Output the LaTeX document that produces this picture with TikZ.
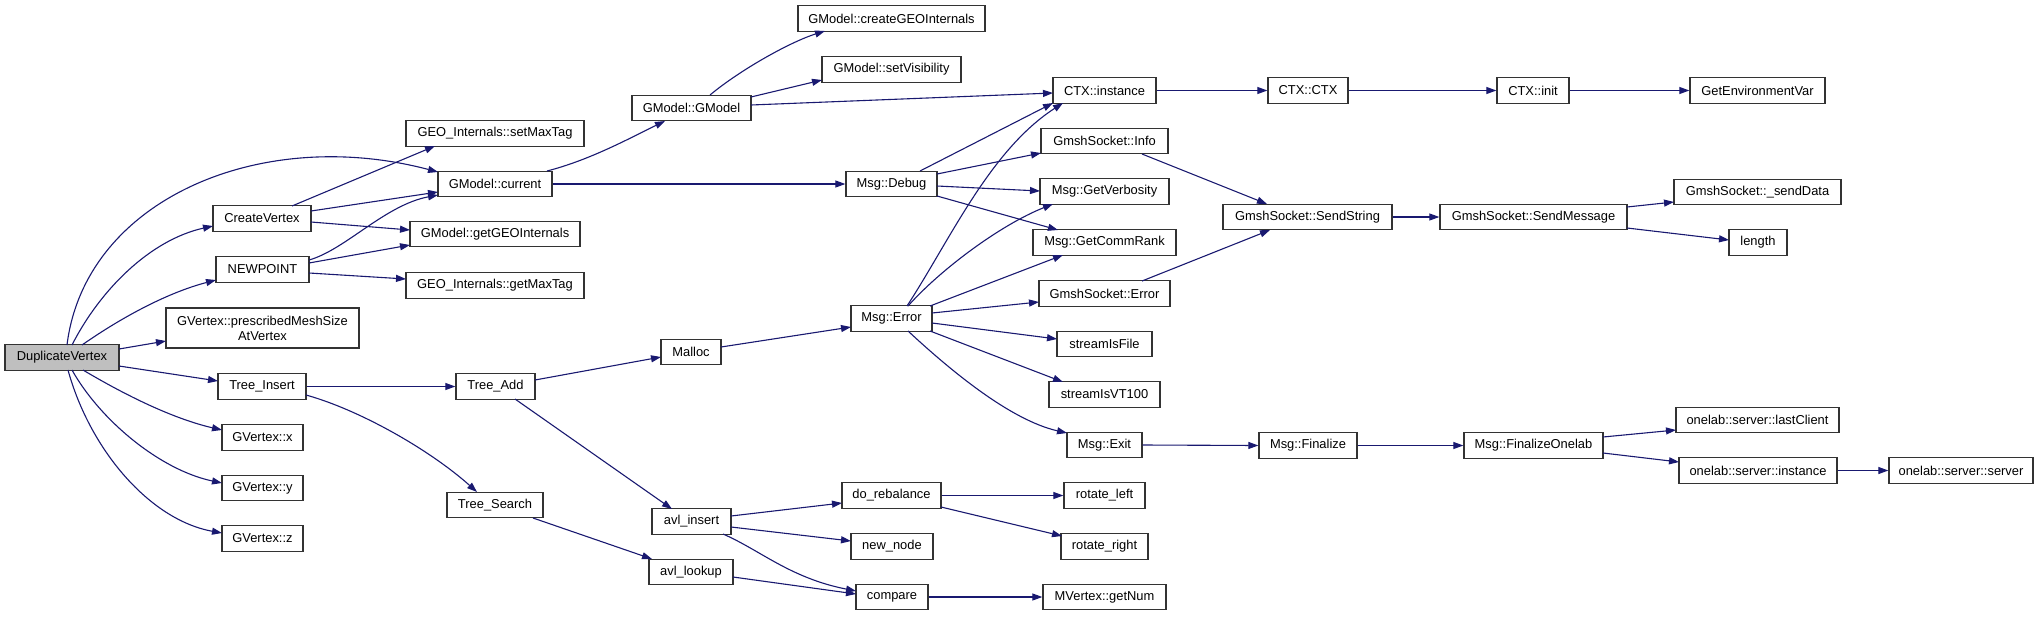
\documentclass[tikz,border=0pt]{standalone}
\usepackage{fontspec}
\setmainfont{Liberation Sans}
\usetikzlibrary{arrows.meta,calc}
\definecolor{edgec}{HTML}{191970}
\definecolor{boxc}{HTML}{333333}
\definecolor{rootc}{HTML}{BFBFBF}
\begin{document}
\begin{tikzpicture}[x=1pt,y=-1pt,
  box/.style={draw=boxc,line width=1.3pt,inner sep=0pt,minimum height=25.5pt,font=\fontsize{12.9}{15}\selectfont,align=center,fill=white},
  e/.style={draw=edgec,line width=1.1pt,-{Triangle[length=10pt,width=7pt]},shorten >=0pt}]
\useasboundingbox (0,0) rectangle (2039,616);
% column 0
\node[box,fill=rootc,minimum width=114] (dv) at (62,357.5) {DuplicateVertex};
% column 1
\node[box,minimum width=98] (cv) at (262,218.5) {CreateVertex};
\node[box,minimum width=93] (np) at (262.5,269.5) {NEWPOINT};
\node[box,minimum width=193,minimum height=40] (pm) at (262.5,328) {GVertex::prescribedMeshSize\\AtVertex};
\node[box,minimum width=88] (ti) at (262,386.5) {Tree\_Insert};
\node[box,minimum width=81] (gx) at (262.5,437.5) {GVertex::x};
\node[box,minimum width=81] (gy) at (262.5,488) {GVertex::y};
\node[box,minimum width=81] (gz) at (262.5,538.5) {GVertex::z};
% column 2
\node[box,minimum width=178] (smt) at (495,133.5) {GEO\_Internals::setMaxTag};
\node[box,minimum width=114] (gc) at (495,184) {GModel::current};
\node[box,minimum width=170] (ggi) at (495,234) {GModel::getGEOInternals};
\node[box,minimum width=178] (gmt) at (495,285.5) {GEO\_Internals::getMaxTag};
\node[box,minimum width=79] (ta) at (495.5,386.5) {Tree\_Add};
\node[box,minimum width=96] (ts) at (495,505) {Tree\_Search};
% column 3
\node[box,minimum width=119] (gm) at (691.5,108) {GModel::GModel};
\node[box,minimum width=60] (mal) at (691,352) {Malloc};
\node[box,minimum width=79] (ai) at (691.5,521.5) {avl\_insert};
\node[box,minimum width=84] (al) at (691,572) {avl\_lookup};
% column 4
\node[box,minimum width=187] (cgi) at (891.5,18.5) {GModel::createGEOInternals};
\node[box,minimum width=139] (sv) at (891.5,69.5) {GModel::setVisibility};
\node[box,minimum width=91] (md) at (891.5,184) {Msg::Debug};
\node[box,minimum width=81] (me) at (891.5,318.5) {Msg::Error};
\node[box,minimum width=99] (dr) at (891.5,495.5) {do\_rebalance};
\node[box,minimum width=82] (nn) at (892,546.5) {new\_node};
\node[box,minimum width=72] (cmp) at (892,597) {compare};
% column 5
\node[box,minimum width=103] (ci) at (1104.5,90.5) {CTX::instance};
\node[box,minimum width=127] (gsi) at (1104.5,141) {GmshSocket::Info};
\node[box,minimum width=129] (gv) at (1104.5,191.5) {Msg::GetVerbosity};
\node[box,minimum width=143] (gcr) at (1104.5,242.5) {Msg::GetCommRank};
\node[box,minimum width=131] (gse) at (1104.5,293.5) {GmshSocket::Error};
\node[box,minimum width=95] (sif) at (1104.5,344) {streamIsFile};
\node[box,minimum width=111] (svt) at (1104.5,394.5) {streamIsVT100};
\node[box,minimum width=75] (mex) at (1104.5,445) {Msg::Exit};
\node[box,minimum width=81] (rl) at (1104.5,495.5) {rotate\_left};
\node[box,minimum width=87] (rr) at (1104.5,546.5) {rotate\_right};
\node[box,minimum width=123] (gn) at (1104.5,597) {MVertex::getNum};
% column 6
\node[box,minimum width=80] (cc) at (1308,90.5) {CTX::CTX};
\node[box,minimum width=169] (ss) at (1307.5,217) {GmshSocket::SendString};
\node[box,minimum width=98] (fin) at (1308,445.5) {Msg::Finalize};
% column 7
\node[box,minimum width=72] (cin) at (1533,90.5) {CTX::init};
\node[box,minimum width=187] (sm) at (1533.5,217) {GmshSocket::SendMessage};
\node[box,minimum width=139] (fo) at (1533.5,445.5) {Msg::FinalizeOnelab};
% column 8
\node[box,minimum width=135] (gev) at (1757.5,90.5) {GetEnvironmentVar};
\node[box,minimum width=167] (sd) at (1757.5,192) {GmshSocket::\_sendData};
\node[box,minimum width=58] (len) at (1758,242.5) {length};
\node[box,minimum width=163] (lc) at (1757.5,420) {onelab::server::lastClient};
\node[box,minimum width=158] (osi) at (1758,470.5) {onelab::server::instance};
% column 9
\node[box,minimum width=144] (oss) at (1961,470.5) {onelab::server::server};

% edges from DuplicateVertex
\draw[e] ($(dv)+(5,-12.5)$) .. controls (85,200) and (260,125) .. ($(gc)+(-57,-12)$);
\draw[e] ($(dv)+(10,-12.5)$) .. controls (100,290) and (150,240) .. ($(cv)+(-49,7.5)$);
\draw[e] ($(dv)+(20,-12.5)$) .. controls (125,315) and (170,292) .. ($(np)+(-46.5,10.5)$);
\draw[e] ($(dv)+(57,-8.5)$) -- ($(pm)+(-96.5,13)$);
\draw[e] ($(dv)+(57,8.5)$) -- ($(ti)+(-44,-5.5)$);
\draw[e] ($(dv)+(21,12.5)$) .. controls (120,392) and (170,418) .. ($(gx)+(-40.5,-7.5)$);
\draw[e] ($(dv)+(10,12.5)$) .. controls (100,420) and (160,470) .. ($(gy)+(-40.5,-5)$);
\draw[e] ($(dv)+(6,12.5)$) .. controls (90,450) and (150,520) .. ($(gz)+(-40.5,-5.5)$);
% CreateVertex
\draw[e] ($(cv)+(30,-12.5)$) -- ($(smt)+(-60,12.5)$);
\draw[e] ($(cv)+(49,-7.5)$) -- ($(gc)+(-57,8)$);
\draw[e] ($(cv)+(49,3.5)$) -- ($(ggi)+(-85,-4)$);
% NEWPOINT
\draw[e] ($(np)+(46.5,-9.5)$) .. controls (345,250) and (385,205) .. ($(gc)+(-57,11)$);
\draw[e] ($(np)+(46.5,-6.5)$) -- ($(ggi)+(-85,11)$);
\draw[e] ($(np)+(46.5,3.5)$) -- ($(gmt)+(-89,-6.5)$);
% GModel::current
\draw[e] ($(gc)+(52,-13)$) .. controls (590,160) and (630,138) .. ($(gm)+(-26.5,13)$);
\draw[e] (gc.east) -- (md.west);
% GModel::GModel
\draw[e] ($(gm)+(18.5,-13)$) .. controls (740,70) and (790,42) .. ($(cgi)+(-66.5,12.5)$);
\draw[e] ($(gm)+(59.5,-11)$) -- ($(sv)+(-69.5,10.5)$);
\draw[e] ($(gm)+(59.5,-3)$) -- ($(ci)+(-51.5,2.5)$);
% CTX chain
\draw[e] (ci.east) -- (cc.west);
\draw[e] (cc.east) -- (cin.west);
\draw[e] (cin.east) -- (gev.west);
% Msg::Debug
\draw[e] ($(md)+(28.5,-13)$) -- ($(ci)+(-51.5,12.5)$);
\draw[e] ($(md)+(45.5,-10)$) -- ($(gsi)+(-63.5,12)$);
\draw[e] ($(md)+(45.5,2)$) -- ($(gv)+(-64.5,-0.5)$);
\draw[e] ($(md)+(45.5,12)$) -- ($(gcr)+(-46.5,-12.5)$);
% sockets
\draw[e] ($(gsi)+(37.5,13)$) -- ($(ss)+(-40.5,-13)$);
\draw[e] ($(gse)+(37.5,-12.5)$) -- ($(ss)+(-37.5,13)$);
\draw[e] (ss.east) -- (sm.west);
\draw[e] ($(sm)+(93.5,-10)$) -- ($(sd)+(-83.5,10)$);
\draw[e] ($(sm)+(93.5,11)$) -- ($(len)+(-29,-2.5)$);
% Msg::Error
\draw[e] ($(me)+(15.5,-12.5)$) .. controls (950,240) and (990,150) .. ($(ci)+(-41.5,12.5)$);
\draw[e] ($(me)+(16.5,-12.5)$) .. controls (940,270) and (1000,225) .. ($(gv)+(-51.5,12.5)$);
\draw[e] ($(me)+(38.5,-12.5)$) -- ($(gcr)+(-41.5,12.5)$);
\draw[e] ($(me)+(40.5,-5.5)$) -- ($(gse)+(-65.5,8.5)$);
\draw[e] ($(me)+(40.5,4.5)$) -- ($(sif)+(-47.5,-5)$);
\draw[e] ($(me)+(38.5,12.5)$) -- ($(svt)+(-41.5,-12.5)$);
\draw[e] ($(me)+(16.5,12.5)$) .. controls (950,370) and (1010,420) .. ($(mex)+(-37.5,-12)$);
% finalize chain
\draw[e] (mex.east) -- (fin.west);
\draw[e] (fin.east) -- (fo.west);
\draw[e] ($(fo)+(69.5,-8.5)$) -- ($(lc)+(-81.5,10)$);
\draw[e] ($(fo)+(69.5,7.5)$) -- ($(osi)+(-79,-8.5)$);
\draw[e] (osi.east) -- (oss.west);
% tree
\draw[e] (ti.east) -- (ta.west);
\draw[e] ($(ti)+(44,8.5)$) .. controls (360,410) and (430,450) .. ($(ts)+(-18,-13)$);
\draw[e] ($(ta)+(39.5,-6.5)$) -- ($(mal)+(-30,5)$);
\draw[e] ($(ta)+(19.5,12.5)$) -- ($(ai)+(-19.5,-12.5)$);
\draw[e] ($(mal)+(30,-5)$) -- ($(me)+(-40.5,8.5)$);
\draw[e] ($(ai)+(39.5,-5.5)$) -- ($(dr)+(-49.5,7.5)$);
\draw[e] ($(ai)+(39.5,5.5)$) -- ($(nn)+(-41,-5.5)$);
\draw[e] ($(ai)+(31.5,12.5)$) .. controls (760,550) and (790,578) .. ($(cmp)+(-36,-6)$);
\draw[e] ($(al)+(42,5)$) -- ($(cmp)+(-36,-3)$);
\draw[e] ($(ts)+(38,13)$) -- ($(al)+(-39,-13)$);
\draw[e] (dr.east) -- (rl.west);
\draw[e] ($(dr)+(49.5,11.5)$) -- ($(rr)+(-42.5,-10.5)$);
\draw[e] (cmp.east) -- (gn.west);
\end{tikzpicture}
\end{document}
